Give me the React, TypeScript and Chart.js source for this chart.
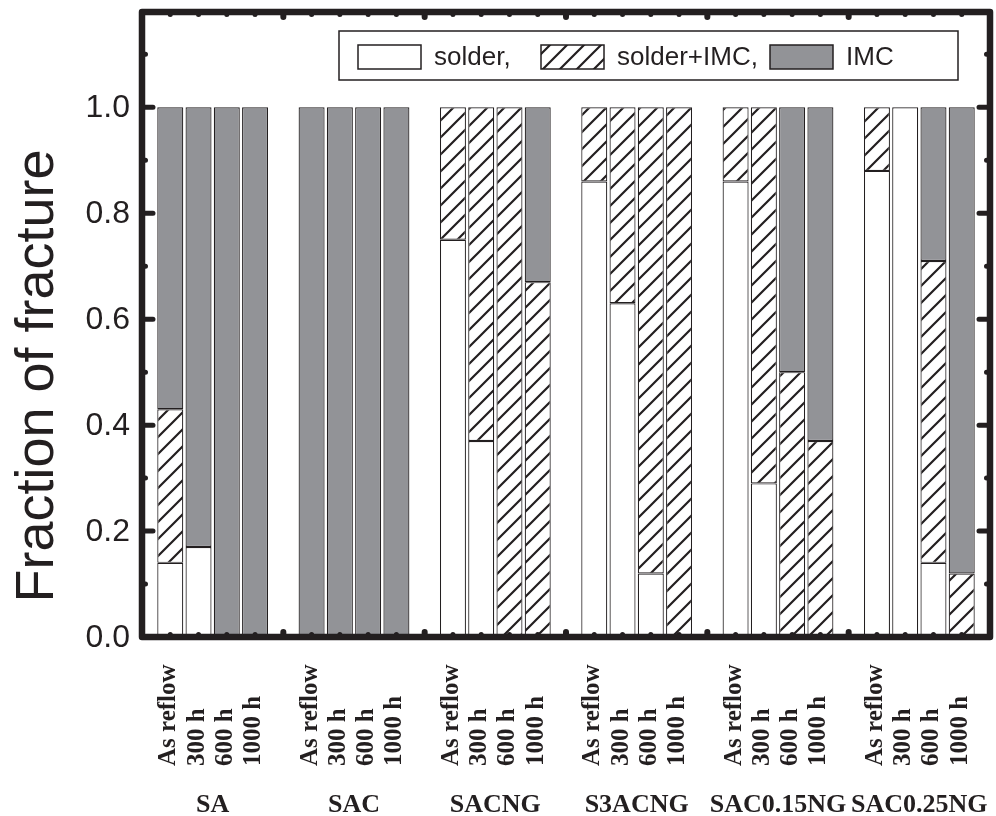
import React, { useEffect, useRef } from 'react';
import { Chart, registerables } from 'chart.js';

Chart.register(...registerables);

// ---------- data ----------
const groups = ['SA', 'SAC', 'SACNG', 'S3ACNG', 'SAC0.15NG', 'SAC0.25NG'];
const conditions = ['As reflow', '300 h', '600 h', '1000 h'];
// one value per bar, group by group (As reflow, 300 h, 600 h, 1000 h)
const solder = [0.14, 0.17, 0, 0, 0, 0, 0, 0, 0.75, 0.37, 0, 0, 0.86, 0.63, 0.12, 0, 0.86, 0.29, 0, 0, 0.88, 1.0, 0.14, 0];
const solderIMC = [0.29, 0, 0, 0, 0, 0, 0, 0, 0.25, 0.63, 1.0, 0.67, 0.14, 0.37, 0.88, 1.0, 0.14, 0.71, 0.5, 0.37, 0.12, 0, 0.57, 0.12];
const imc = [0.57, 0.83, 1.0, 1.0, 1.0, 1.0, 1.0, 1.0, 0, 0, 0, 0.33, 0, 0, 0, 0, 0, 0, 0.5, 0.63, 0, 0, 0.29, 0.88];
const yMajorTicks = [0, 0.2, 0.4, 0.6, 0.8, 1.0];
const yTickLabels = ['0.0', '0.2', '0.4', '0.6', '0.8', '1.0'];
const yMinorTicks = [0.1, 0.3, 0.5, 0.7, 0.9, 1.1];
const yMax = 1.18;
const yTitle = 'Fraction of fracture';
const legendLabels = ['solder,', 'solder+IMC,', 'IMC'];

const INK = '#231f20';
const GRAY = '#929397';
const SANS = '"Liberation Sans", Arial, Helvetica, sans-serif';
const SERIF = '"Liberation Serif", "Times New Roman", serif';

function makeHatch(ctx: CanvasRenderingContext2D): CanvasPattern {
  const s = 17;
  const c = document.createElement('canvas');
  c.width = s;
  c.height = s;
  const g = c.getContext('2d')!;
  g.fillStyle = '#ffffff';
  g.fillRect(0, 0, s, s);
  g.strokeStyle = INK;
  g.lineWidth = 2.2;
  g.beginPath();
  g.moveTo(-2, s + 2);
  g.lineTo(s + 2, -2);
  g.moveTo(-6, 6);
  g.lineTo(6, -6);
  g.moveTo(s - 6, s + 6);
  g.lineTo(s + 6, s - 6);
  g.stroke();
  return ctx.createPattern(c, 'repeat')!;
}

export default function App() {
  const ref = useRef<HTMLCanvasElement>(null);

  useEffect(() => {
    const canvas = ref.current!;
    const ctx0 = canvas.getContext('2d')!;
    const hatch = makeHatch(ctx0);

    // category slots: one empty slot before, between and after the groups
    const labels: string[] = [''];
    const sD: (number | null)[] = [null];
    const hD: (number | null)[] = [null];
    const iD: (number | null)[] = [null];
    const groupSlots: number[][] = [];
    groups.forEach((_, gi) => {
      const slots: number[] = [];
      conditions.forEach((c, ci) => {
        const k = gi * conditions.length + ci;
        slots.push(labels.length);
        labels.push(c);
        sD.push(solder[k] ? solder[k] : null);
        hD.push(solderIMC[k] ? solderIMC[k] : null);
        iD.push(imc[k] ? imc[k] : null);
      });
      groupSlots.push(slots);
      labels.push('');
      sD.push(null);
      hD.push(null);
      iD.push(null);
    });

    const deco = {
      id: 'deco',
      afterDatasetsDraw(chart: any) {
        const { ctx, chartArea: a, scales } = chart;
        const x = scales.x;
        const y = scales.y;
        ctx.save();
        ctx.strokeStyle = INK;
        ctx.fillStyle = INK;
        ctx.lineCap = 'round';
        // y ticks (inward, both sides)
        ctx.lineWidth = 5;
        yMajorTicks.forEach((v) => {
          const py = y.getPixelForValue(v);
          ctx.beginPath();
          ctx.moveTo(a.left, py);
          ctx.lineTo(a.left + 11, py);
          ctx.moveTo(a.right, py);
          ctx.lineTo(a.right - 11, py);
          ctx.stroke();
        });
        yMinorTicks.forEach((v) => {
          const py = y.getPixelForValue(v);
          ctx.beginPath();
          ctx.moveTo(a.left, py);
          ctx.lineTo(a.left + 3.5, py);
          ctx.moveTo(a.right, py);
          ctx.lineTo(a.right - 3.5, py);
          ctx.stroke();
        });
        // x ticks (inward, top and bottom)
        for (let i = 1; i < labels.length - 1; i++) {
          const px = x.getPixelForValue(i);
          const len = labels[i] === '' ? 5 : 2.5;
          ctx.lineWidth = labels[i] === '' ? 6 : 5;
          ctx.beginPath();
          ctx.moveTo(px, a.bottom);
          ctx.lineTo(px, a.bottom - len);
          ctx.moveTo(px, a.top);
          ctx.lineTo(px, a.top + len);
          ctx.stroke();
        }
        // frame
        ctx.lineWidth = 6.5;
        ctx.lineJoin = 'round';
        ctx.strokeRect(a.left, a.top, a.right - a.left, a.bottom - a.top);

        // legend box
        const bx = 339, by = 31, bw = 619, bh = 49;
        ctx.fillStyle = '#ffffff';
        ctx.fillRect(bx, by, bw, bh);
        ctx.lineWidth = 1.5;
        ctx.lineCap = 'butt';
        ctx.lineJoin = 'miter';
        ctx.strokeRect(bx, by, bw, bh);
        const fills: any[] = ['#ffffff', hatch, GRAY];
        const swatchX = [358, 541, 770];
        const textX = [434, 617, 846];
        ctx.font = `26px ${SANS}`;
        ctx.textBaseline = 'middle';
        ctx.textAlign = 'left';
        const sy = 45, sh = 24, sw = 63;
        legendLabels.forEach((t, i) => {
          ctx.fillStyle = fills[i];
          ctx.fillRect(swatchX[i], sy, sw, sh);
          ctx.lineWidth = 1.5;
          ctx.strokeStyle = INK;
          ctx.strokeRect(swatchX[i], sy, sw, sh);
          ctx.fillStyle = INK;
          ctx.fillText(t, textX[i], sy + sh / 2 + 1);
        });
        ctx.restore();
      },
      afterDraw(chart: any) {
        const { ctx, scales, chartArea: a } = chart;
        const x = scales.x;
        const y = scales.y;
        ctx.save();
        ctx.fillStyle = INK;
        // y tick labels
        ctx.font = `32px ${SANS}`;
        ctx.textAlign = 'right';
        ctx.textBaseline = 'middle';
        yMajorTicks.forEach((v, i) => {
          ctx.fillText(yTickLabels[i], a.left - 12, y.getPixelForValue(v) + 1);
        });
        // rotated condition labels
        ctx.font = `bold 25px ${SERIF}`;
        ctx.textAlign = 'left';
        ctx.textBaseline = 'alphabetic';
        for (let i = 0; i < labels.length; i++) {
          if (!labels[i]) continue;
          const px = x.getPixelForValue(i);
          ctx.save();
          ctx.translate(px + 5, 766);
          ctx.rotate(-Math.PI / 2);
          ctx.fillText(labels[i], 0, 0);
          ctx.restore();
        }
        // group labels
        ctx.font = `bold 26px ${SERIF}`;
        ctx.textAlign = 'center';
        groups.forEach((g, gi) => {
          const s = groupSlots[gi];
          const c = (x.getPixelForValue(s[0]) + x.getPixelForValue(s[s.length - 1])) / 2;
          ctx.fillText(g, c, 812);
        });
        // y title
        ctx.font = `54px ${SANS}`;
        ctx.textAlign = 'center';
        ctx.textBaseline = 'alphabetic';
        ctx.save();
        ctx.translate(53, 376);
        ctx.rotate(-Math.PI / 2);
        ctx.fillText(yTitle, 0, 0);
        ctx.restore();
        ctx.restore();
      },
    };

    const common = {
      borderColor: INK,
      borderWidth: 1.2,
      borderSkipped: false,
      barPercentage: 0.92,
      categoryPercentage: 1.0,
    };

    const chart = new Chart(canvas, {
      type: 'bar',
      data: {
        labels,
        datasets: [
          { label: legendLabels[0], data: sD, backgroundColor: '#ffffff', ...common },
          { label: legendLabels[1], data: hD, backgroundColor: hatch as any, ...common },
          { label: legendLabels[2], data: iD, backgroundColor: GRAY, ...common },
        ],
      },
      options: {
        animation: false,
        responsive: false,
        devicePixelRatio: 1,
        layout: { padding: { top: 12, right: 6, left: 0, bottom: 0 } },
        plugins: { legend: { display: false }, tooltip: { enabled: false } },
        scales: {
          x: {
            type: 'category',
            stacked: true,
            offset: false,
            grid: { display: false, drawTicks: false },
            border: { display: false },
            ticks: { display: false },
            afterFit: (s: any) => { s.height = 816 - 637; },
          },
          y: {
            type: 'linear',
            stacked: true,
            min: 0,
            max: yMax,
            grid: { display: false, drawTicks: false },
            border: { display: false },
            ticks: { display: false },
            afterBuildTicks: (s: any) => { s.ticks = yMajorTicks.map((v) => ({ value: v })); },
            afterFit: (s: any) => { s.width = 142; },
          },
        },
      },
      plugins: [deco],
    });
    return () => chart.destroy();
  }, []);

  return (
    <div style={{ position: 'fixed', left: 0, top: 0, width: 996, height: 816, background: '#ffffff' }}>
      <canvas ref={ref} width={996} height={816} style={{ width: 996, height: 816, display: 'block' }} />
    </div>
  );
}
